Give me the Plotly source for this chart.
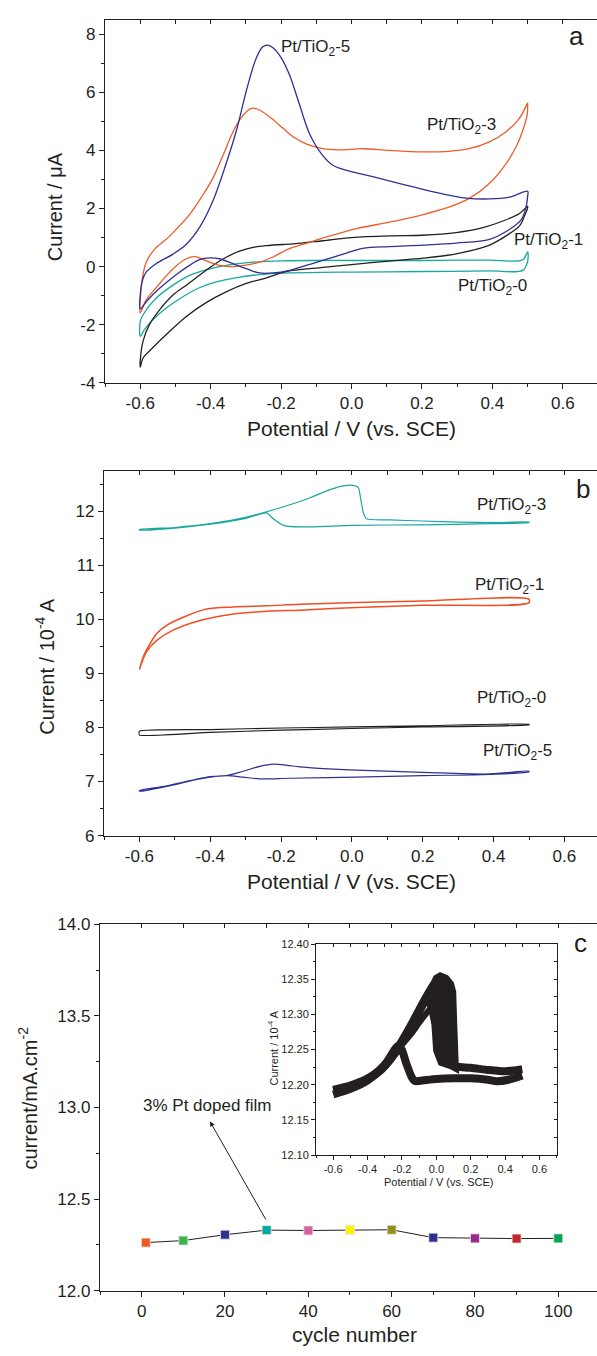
import plotly.graph_objects as go

W, H = 597, 1356
INK = "#231f20"
FONT = "Arial, 'Liberation Sans', Helvetica, sans-serif"

BLUE = "#2e3192"
ORANGE = "#f15a29"
TEAL = "#17a89f"

# ---------------- panel a : CV currents in uA ----------------
a5_fwd_v = [-0.6, -0.592, -0.583, -0.555, -0.507, -0.469, -0.432, -0.394, -0.356, -0.327, -0.299, -0.271,
            -0.252, -0.238, -0.223, -0.2, -0.176, -0.148, -0.119, -0.082, -0.053, -0.016, 0.06, 0.154,
            0.249, 0.325, 0.392, 0.448, 0.5]
a5_fwd_i = [-0.98, -0.41, -0.19, 0.10, 0.43, 0.77, 1.34, 2.25, 3.55, 4.68, 6.04, 7.17,
            7.57, 7.63, 7.54, 7.20, 6.60, 5.59, 4.57, 3.83, 3.49, 3.32, 3.10, 2.81,
            2.53, 2.36, 2.33, 2.39, 2.59]
a5_rev_v = [0.5, 0.496, 0.482, 0.448, 0.392, 0.297, 0.203, 0.108, 0.032, -0.024, -0.082, -0.129,
            -0.176, -0.223, -0.261, -0.299, -0.337, -0.375, -0.403, -0.432, -0.46, -0.498, -0.545,
            -0.583, -0.6]
a5_rev_i = [2.42, 2.08, 1.62, 1.28, 0.94, 0.81, 0.74, 0.69, 0.63, 0.43, 0.21, 0.04,
            -0.13, -0.22, -0.22, -0.07, 0.10, 0.27, 0.30, 0.24, 0.04, -0.28, -0.75,
            -1.21, -1.46]

a3_fwd_v = [-0.6, -0.594, -0.583, -0.559, -0.526, -0.498, -0.46, -0.422, -0.394, -0.365, -0.337, -0.313,
            -0.285, -0.266, -0.233, -0.195, -0.167, -0.129, -0.082, -0.035, 0.031, 0.107, 0.2, 0.276,
            0.333, 0.39, 0.437, 0.475, 0.5]
a3_fwd_i = [-1.21, -0.41, 0.15, 0.60, 0.94, 1.28, 1.79, 2.47, 3.04, 3.83, 4.63, 5.13,
            5.45, 5.42, 5.16, 4.77, 4.48, 4.23, 4.06, 4.02, 4.06, 4.00, 3.95, 3.97,
            4.06, 4.29, 4.63, 5.08, 5.64]
a3_rev_v = [0.5, 0.499, 0.486, 0.467, 0.439, 0.392, 0.336, 0.27, 0.203, 0.108, 0.014, -0.082,
            -0.129, -0.176, -0.2, -0.223, -0.261, -0.299, -0.337, -0.375, -0.403, -0.432, -0.446,
            -0.469, -0.498, -0.526, -0.555, -0.583, -0.6]
a3_rev_i = [5.64, 5.25, 4.68, 4.12, 3.55, 2.87, 2.36, 2.02, 1.79, 1.53, 1.31, 0.98,
            0.80, 0.62, 0.48, 0.33, 0.15, 0.05, 0.0, 0.04, 0.15, 0.30, 0.34,
            0.27, 0.02, -0.32, -0.73, -1.15, -1.60]

a1_fwd_v = [-0.6, -0.592, -0.574, -0.545, -0.507, -0.469, -0.432, -0.394, -0.356, -0.318, -0.28, -0.242,
            -0.195, -0.176, -0.082, 0.0, 0.108, 0.203, 0.297, 0.373, 0.43, 0.477, 0.5]
a1_fwd_i = [-3.25, -2.57, -2.0, -1.49, -0.98, -0.64, -0.30, 0.04, 0.32, 0.53, 0.66, 0.72,
            0.76, 0.77, 0.89, 1.0, 1.06, 1.08, 1.17, 1.34, 1.57, 1.83, 2.08]
a1_rev_v = [0.5, 0.491, 0.477, 0.439, 0.392, 0.297, 0.203, 0.108, 0.0, -0.082, -0.176, -0.2,
            -0.242, -0.299, -0.356, -0.413, -0.469, -0.526, -0.564, -0.592, -0.6]
a1_rev_i = [2.02, 1.74, 1.40, 1.06, 0.74, 0.44, 0.29, 0.19, 0.07, -0.03, -0.15, -0.22,
            -0.39, -0.58, -0.87, -1.24, -1.72, -2.34, -2.79, -3.15, -3.47]

a0_fwd_v = [-0.6, -0.592, -0.555, -0.507, -0.46, -0.413, -0.356, -0.28, -0.195, -0.1, 0.0, 0.108,
            0.2, 0.3, 0.392, 0.486, 0.5]
a0_fwd_i = [-1.9, -1.66, -1.09, -0.64, -0.30, -0.11, 0.04, 0.15, 0.20, 0.21, 0.21, 0.21,
            0.21, 0.22, 0.22, 0.23, 0.51]
a0_rev_v = [0.5, 0.486, 0.392, 0.203, 0.0, -0.176, -0.242, -0.318, -0.384, -0.432, -0.479, -0.526,
            -0.564, -0.588, -0.6]
a0_rev_i = [0.17, -0.13, -0.15, -0.17, -0.19, -0.22, -0.26, -0.36, -0.53, -0.73, -1.04, -1.43,
            -1.83, -2.17, -2.40]

a_xticks = [-0.6, -0.4, -0.2, 0.0, 0.2, 0.4, 0.6]
a_xticklabels = ["-0.6", "-0.4", "-0.2", "0.0", "0.2", "0.4", "0.6"]
a_yticks = [-4, -2, 0, 2, 4, 6, 8]
a_yticklabels = ["-4", "-2", "0", "2", "4", "6", "8"]

# ---------------- panel b : CV currents in 1e-4 A ----------------
b3_fwd_v = [-0.6, -0.5, -0.4, -0.3, -0.246, -0.2, -0.147, -0.118, -0.062, -0.024, 0.004, 0.018,
            0.025, 0.032, 0.041, 0.107, 0.2, 0.3, 0.4, 0.5]
b3_fwd_i = [11.66, 11.70, 11.77, 11.89, 11.98, 12.07, 12.18, 12.25, 12.40, 12.47, 12.48, 12.44,
            12.22, 11.98, 11.86, 11.84, 11.82, 11.80, 11.79, 11.80]
b3_rev_v = [0.5, 0.39, 0.2, 0.0, -0.147, -0.194, -0.222, -0.241, -0.3, -0.4, -0.5, -0.6]
b3_rev_i = [11.79, 11.77, 11.75, 11.74, 11.71, 11.74, 11.86, 11.97, 11.87, 11.76, 11.69, 11.65]

b1_fwd_v = [-0.6, -0.58, -0.551, -0.505, -0.429, -0.335, -0.241, -0.147, 0.013, 0.2, 0.5]
b1_fwd_i = [9.07, 9.40, 9.61, 9.80, 9.98, 10.10, 10.15, 10.17, 10.22, 10.26, 10.31]
b1_rev_v = [0.5, 0.2, 0.013, -0.147, -0.241, -0.335, -0.41, -0.476, -0.523, -0.551, -0.57, -0.589, -0.6]
b1_rev_i = [10.37, 10.34, 10.31, 10.28, 10.25, 10.23, 10.19, 10.04, 9.89, 9.74, 9.55, 9.31, 9.07]

b0_fwd_v = [-0.6, -0.4, -0.2, 0.0, 0.2, 0.5]
b0_fwd_i = [7.93, 7.96, 7.99, 8.01, 8.03, 8.06]
b0_rev_v = [0.5, 0.2, 0.0, -0.2, -0.4, -0.6]
b0_rev_i = [8.05, 8.01, 7.98, 7.95, 7.91, 7.86]

b5_fwd_v = [-0.6, -0.523, -0.401, -0.354, -0.307, -0.26, -0.222, -0.184, -0.147, -0.082, 0.012,
            0.2, 0.39, 0.5]
b5_fwd_i = [6.83, 6.92, 7.09, 7.11, 7.19, 7.28, 7.32, 7.30, 7.27, 7.24, 7.21, 7.17, 7.14, 7.19]
b5_rev_v = [0.5, 0.39, 0.2, 0.012, -0.175, -0.26, -0.307, -0.354, -0.429, -0.523, -0.6]
b5_rev_i = [7.18, 7.13, 7.11, 7.08, 7.06, 7.05, 7.08, 7.11, 7.05, 6.91, 6.82]

b_yticks = [6, 7, 8, 9, 10, 11, 12]
b_yticklabels = ["6", "7", "8", "9", "10", "11", "12"]

# ---------------- panel c : stability over cycling ----------------
cycles = [1, 10, 20, 30, 40, 50, 60, 70, 80, 90, 100]
peak_current = [12.263, 12.274, 12.306, 12.331, 12.329, 12.333, 12.333, 12.290, 12.286, 12.285, 12.286]
marker_colors = ["#f15a24", "#39b54a", "#2e3192", "#00a99d", "#d4609f", "#fff200",
                 "#948f1b", "#2e3192", "#9b2a8e", "#c1272d", "#00a651"]
c_xticks = [0, 20, 40, 60, 80, 100]
c_yticks = [12.0, 12.5, 13.0, 13.5, 14.0]
c_yticklabels = ["12.0", "12.5", "13.0", "13.5", "14.0"]

# inset: 100 overlaid CV cycles of the 3% Pt film
ins_fwd_v = [-0.6, -0.5, -0.4, -0.33, -0.27, -0.21, -0.15, -0.1, -0.05, -0.01, 0.022]
ins_fwd_i = [12.192, 12.198, 12.208, 12.220, 12.236, 12.257, 12.282, 12.305, 12.327, 12.343, 12.348]
ins_inner_v = [-0.23, -0.2, -0.15, -0.1, -0.05, -0.03]
ins_inner_i = [12.250, 12.257, 12.271, 12.288, 12.304, 12.310]
ins_peak_v = [-0.05, -0.007, 0.022, 0.062, 0.091, 0.104, 0.11, 0.12, 0.12, 0.081, 0.022, -0.007,
              -0.017, -0.036, -0.06]
ins_peak_i = [12.330, 12.353, 12.357, 12.353, 12.344, 12.332, 12.285, 12.232, 12.220, 12.225, 12.230,
              12.248, 12.285, 12.309, 12.320]
ins_tail_v = [0.1, 0.2, 0.3, 0.4, 0.5]
ins_tail_i = [12.226, 12.224, 12.221, 12.219, 12.222]
ins_rev_v = [0.5, 0.42, 0.35, 0.3, 0.2, 0.1, 0.0, -0.08, -0.124, -0.144, -0.173, -0.202, -0.225,
             -0.25, -0.3, -0.4, -0.5, -0.6]
ins_rev_i = [12.213, 12.207, 12.205, 12.207, 12.209, 12.209, 12.208, 12.206, 12.205, 12.211, 12.229,
             12.250, 12.255, 12.247, 12.228, 12.206, 12.194, 12.186]
ins_xticks = [-0.6, -0.4, -0.2, 0.0, 0.2, 0.4, 0.6]
ins_xticklabels = ["-0.6", "-0.4", "-0.2", "0.0", "0.2", "0.4", "0.6"]
ins_yticks = [12.10, 12.15, 12.20, 12.25, 12.30, 12.35, 12.40]
ins_yticklabels = ["12.10", "12.15", "12.20", "12.25", "12.30", "12.35", "12.40"]


def px_x(p):
    return p / W


def px_y(p):
    return 1 - p / H


def steps(lo, hi, step):
    out, k = [], 0
    while lo + k * step <= hi + 1e-9:
        out.append(round(lo + k * step, 6))
        k += 1
    return out


fig = go.Figure()


def loop(fv, fi, rv, ri, color, xa, ya, width=1.3, smooth=0.9):
    xs = fv + rv + fv[:1]
    ys = fi + ri + fi[:1]
    fig.add_trace(go.Scatter(x=xs, y=ys, mode="lines", xaxis=xa, yaxis=ya,
                             line=dict(color=color, width=width, shape="spline", smoothing=smooth),
                             showlegend=False, hoverinfo="skip"))


# panel a
loop(a0_fwd_v, a0_fwd_i, a0_rev_v, a0_rev_i, TEAL, "x", "y")
loop(a1_fwd_v, a1_fwd_i, a1_rev_v, a1_rev_i, INK, "x", "y")
loop(a3_fwd_v, a3_fwd_i, a3_rev_v, a3_rev_i, ORANGE, "x", "y")
loop(a5_fwd_v, a5_fwd_i, a5_rev_v, a5_rev_i, BLUE, "x", "y", smooth=1.0)

# panel b
loop(b3_fwd_v, b3_fwd_i, b3_rev_v, b3_rev_i, TEAL, "x2", "y2", width=1.2, smooth=0.6)
loop(b1_fwd_v, b1_fwd_i, b1_rev_v, b1_rev_i, "#f04e23", "x2", "y2", width=1.5)
loop(b0_fwd_v, b0_fwd_i, b0_rev_v, b0_rev_i, INK, "x2", "y2", width=1.1, smooth=0.5)
loop(b5_fwd_v, b5_fwd_i, b5_rev_v, b5_rev_i, BLUE, "x2", "y2", width=1.2)

# panel c: cycle stability
fig.add_trace(go.Scatter(x=cycles, y=peak_current, mode="lines+markers", xaxis="x3", yaxis="y3",
                         line=dict(color=INK, width=1),
                         marker=dict(symbol="square", size=9, color=marker_colors,
                                     line=dict(color="#e6e6e6", width=0.8)),
                         showlegend=False, hoverinfo="skip"))

# inset: thick band of overlapping cycles
band = dict(color="#231f20", shape="spline", smoothing=0.6)
for xs, ys, w in [(ins_fwd_v, ins_fwd_i, 9), (ins_inner_v, ins_inner_i, 6),
                  (ins_tail_v, ins_tail_i, 8), (ins_rev_v, ins_rev_i, 8)]:
    fig.add_trace(go.Scatter(x=xs, y=ys, mode="lines", xaxis="x4", yaxis="y4",
                             line=dict(width=w, **band), showlegend=False, hoverinfo="skip"))
fig.add_trace(go.Scatter(x=ins_peak_v + ins_peak_v[:1], y=ins_peak_i + ins_peak_i[:1], mode="lines",
                         fill="toself", fillcolor="#231f20", xaxis="x4", yaxis="y4",
                         line=dict(color="#231f20", width=4), showlegend=False, hoverinfo="skip"))

# empty traces so the framing overlay axes are drawn
for xa, ya in [("x5", "y"), ("x6", "y2"), ("x7", "y3"), ("x8", "y4"), ("x4", "y5")]:
    fig.add_trace(go.Scatter(x=[], y=[], xaxis=xa, yaxis=ya, showlegend=False))


def axis(domain, rng, anchor, tickvals, ticktext, minor_vals, size=17, ticklen=5, minor_len=3, lw=1.3):
    return dict(domain=domain, range=rng, anchor=anchor, showline=True, linecolor=INK, linewidth=lw,
                ticks="outside", ticklen=ticklen, tickwidth=1.2, tickcolor=INK,
                tickmode="array", tickvals=tickvals, ticktext=ticktext,
                tickfont=dict(family=FONT, size=size, color=INK),
                showgrid=False, zeroline=False, fixedrange=True,
                minor=dict(tickmode="array", tickvals=minor_vals, ticks="outside",
                           ticklen=minor_len, tickwidth=1.1, tickcolor=INK, showgrid=False))


def frame(overlay, anchor, side, rng, tickvals, ticklen=4, lw=1.3):
    return dict(overlaying=overlay, anchor=anchor, side=side, range=rng, showline=True,
                linecolor=INK, linewidth=lw, ticks="inside", ticklen=ticklen, tickwidth=1.1,
                tickcolor=INK, tickmode="array", tickvals=tickvals, showticklabels=False,
                showgrid=False, zeroline=False, fixedrange=True)


a_xr = [-0.7, 0.697]
b_xr = [-0.7, 0.692]
c_xr = [-10, 109.3]
ins_xr = [-0.7, 0.7]

fig.update_layout(
    xaxis=axis([px_x(105), 1], a_xr, "y", a_xticks, a_xticklabels, steps(-0.7, 0.7, 0.1)),
    yaxis=axis([px_y(379), px_y(11)], [-4, 8.5], "x", a_yticks, a_yticklabels, steps(-4, 8, 1)),
    xaxis2=axis([px_x(104), 1], b_xr, "y2", a_xticks, a_xticklabels, steps(-0.7, 0.7, 0.1)),
    yaxis2=axis([px_y(838.3), px_y(468.3)], [6, 12.75], "x2", b_yticks, b_yticklabels, steps(6, 12.5, 0.5)),
    xaxis3=axis([px_x(100), 1], c_xr, "y3", c_xticks, [str(v) for v in c_xticks], steps(-10, 100, 10)),
    yaxis3=axis([px_y(1300), px_y(928.3)], [12.0, 14.0], "x3", c_yticks, c_yticklabels, steps(12, 14, 0.25)),
    xaxis4=axis([px_x(316), px_x(556.7)], ins_xr, "y4", ins_xticks, ins_xticklabels, steps(-0.7, 0.7, 0.1),
                size=11, ticklen=4, minor_len=2, lw=1.0),
    yaxis4=axis([px_y(1162.3), px_y(948.3)], [12.10, 12.40], "x4", ins_yticks, ins_yticklabels,
                steps(12.1, 12.4, 0.025), size=11, ticklen=4, minor_len=2, lw=1.0),
    xaxis5=frame("x", "y", "top", a_xr, steps(-0.7, 0.7, 0.1)),
    xaxis6=frame("x2", "y2", "top", b_xr, steps(-0.7, 0.7, 0.1)),
    xaxis7=frame("x3", "y3", "top", c_xr, steps(-10, 100, 10)),
    xaxis8=frame("x4", "y4", "top", ins_xr, steps(-0.7, 0.7, 0.1), ticklen=3, lw=1.0),
    yaxis5=frame("y4", "x4", "right", [12.10, 12.40], steps(12.1, 12.4, 0.025), ticklen=3, lw=1.0),
)


def text(s, x, y, size, angle=0, xanchor="center"):
    return dict(text=s, x=px_x(x), y=px_y(y), xref="paper", yref="paper", showarrow=False,
                textangle=angle, xanchor=xanchor, yanchor="middle",
                font=dict(family=FONT, size=size, color=INK))


ann = [
    # panel a
    text("Current / \u03bcA", 55, 201, 20, -90),
    text("Potential / V (vs. SCE)", 351.7, 425, 21),
    text("Pt/TiO<sub>2</sub>-5", 315.5, 40, 17),
    text("Pt/TiO<sub>2</sub>-3", 461.3, 119, 17),
    text("Pt/TiO<sub>2</sub>-1", 548.5, 235, 17),
    text("Pt/TiO<sub>2</sub>-0", 493, 282, 17),
    text("a", 576.7, 27, 26),
    # panel b
    text("Current / 10<sup>-4</sup> A", 45, 666, 20, -90),
    text("Potential / V (vs. SCE)", 351, 885, 21),
    text("Pt/TiO<sub>2</sub>-3", 511.7, 504, 17),
    text("Pt/TiO<sub>2</sub>-1", 509, 585, 17),
    text("Pt/TiO<sub>2</sub>-0", 511.7, 700, 17),
    text("Pt/TiO<sub>2</sub>-5", 517.3, 754, 17),
    text("b", 582.5, 487, 26),
    # panel c
    text("current/mA.cm<sup>-2</sup>", 28, 1105, 20, -90),
    text("cycle number", 355, 1344, 21),
    text("c", 580, 947, 26),
    text("3% Pt doped film", 207.5, 1112, 17),
    # inset titles
    text("Current / 10<sup>-4</sup> A", 273.3, 1054, 11, -90),
    text("Potential / V (vs. SCE)", 438.3, 1190, 11),
]
# arrow from the cycle-30 point toward its label
ann.append(dict(x=16.4, y=12.924, xref="x3", yref="y3", ax=cycles[3], ay=peak_current[3] + 0.05,
                axref="x3", ayref="y3", text="", showarrow=True, arrowhead=2, arrowsize=1,
                arrowwidth=1, arrowcolor=INK))

fig.update_layout(
    annotations=ann,
    width=W, height=H,
    margin=dict(l=0, r=0, t=0, b=0),
    paper_bgcolor="white", plot_bgcolor="white",
    showlegend=False,
    font=dict(family=FONT, color=INK),
)

fig.write_html("out.html", config={"displayModeBar": False})
